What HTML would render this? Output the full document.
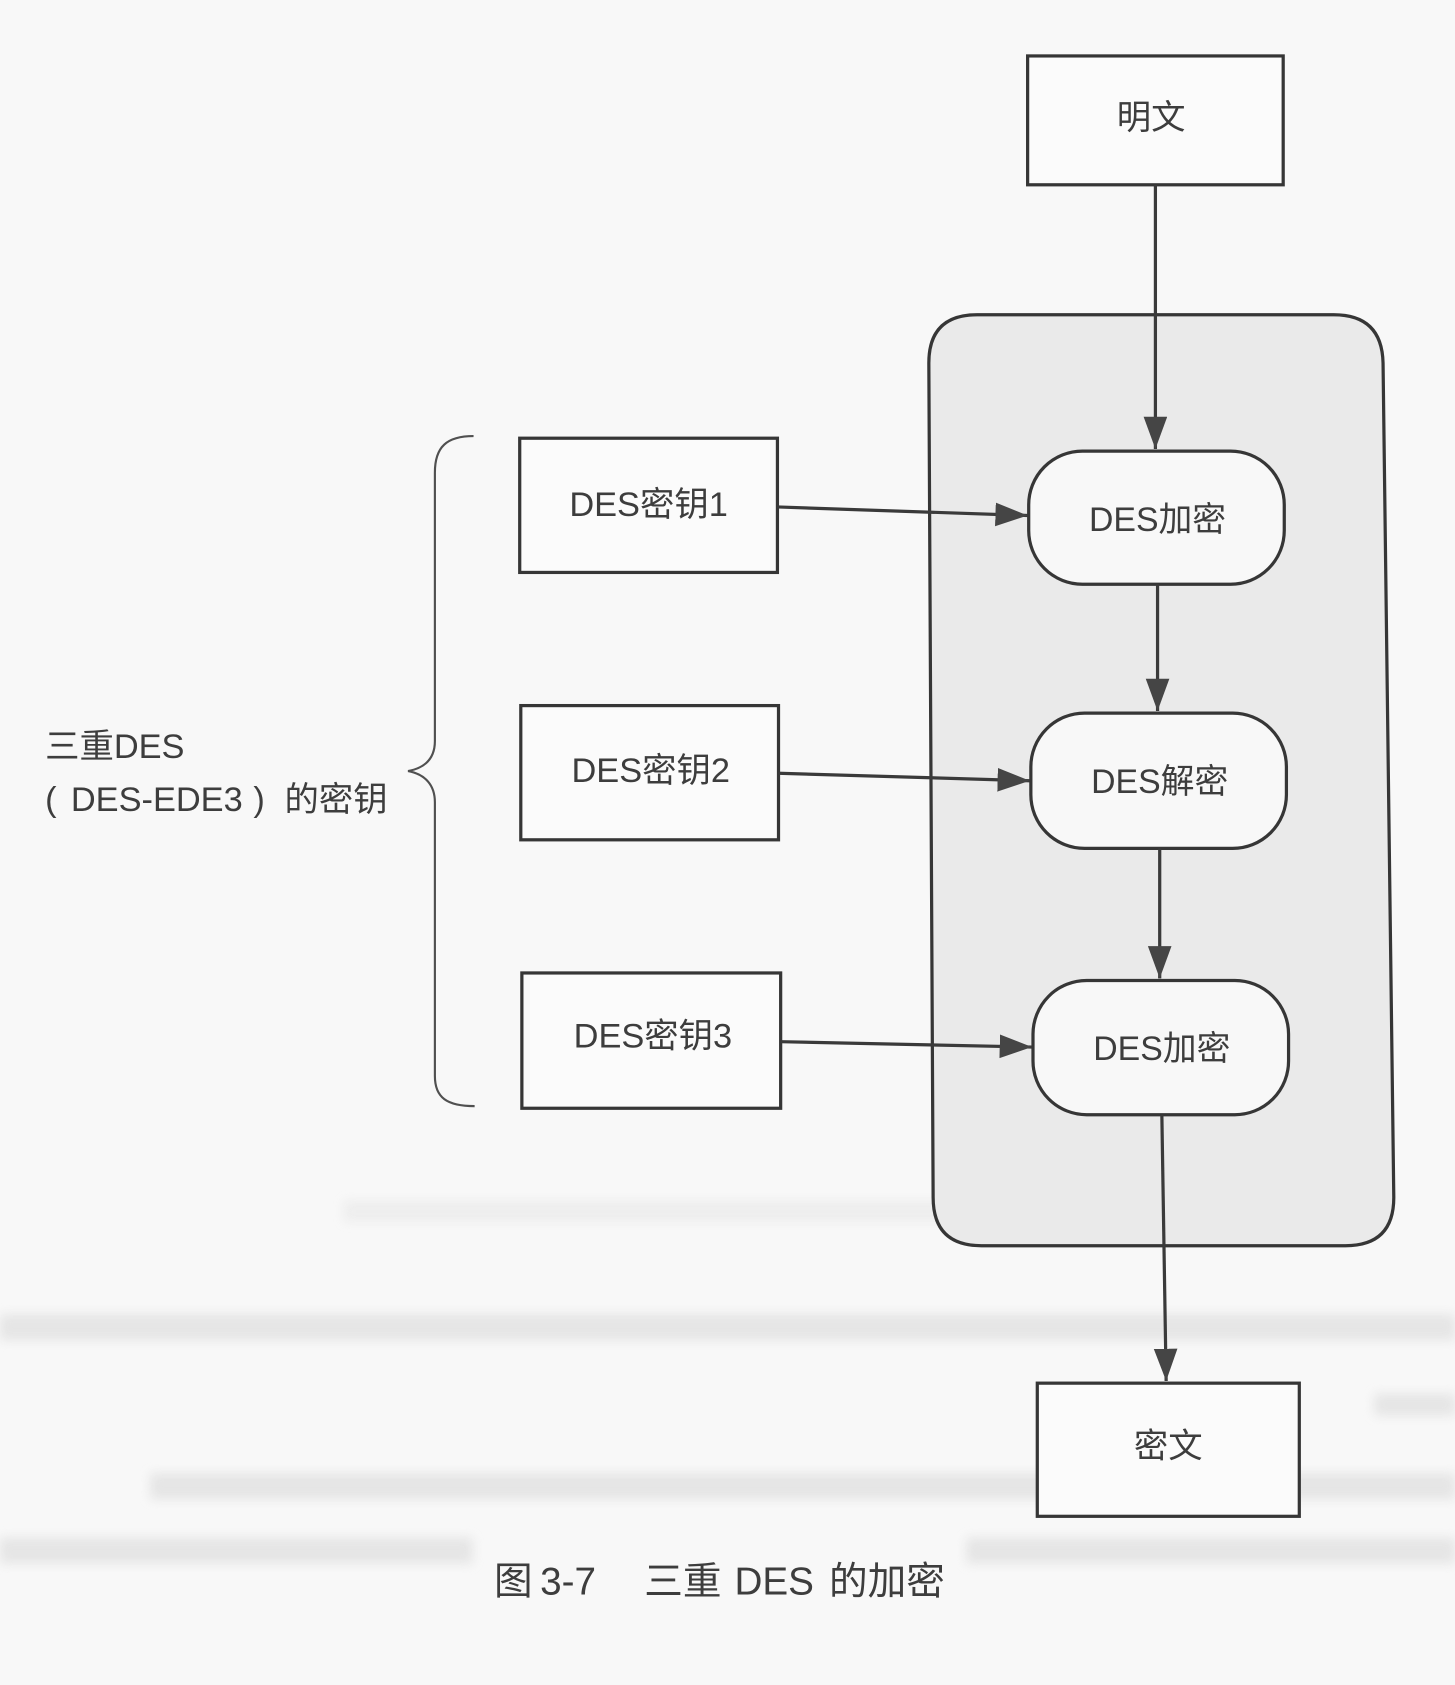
<!DOCTYPE html>
<html><head><meta charset="utf-8"><style>
html,body{margin:0;padding:0;background:#f8f8f8;}
svg{display:block;}
text{font-family:"Liberation Sans","Noto Sans CJK SC",sans-serif;fill:#3d3d3d;}
</style></head><body>
<svg width="1455" height="1685" viewBox="0 0 1355 1569" xmlns="http://www.w3.org/2000/svg">
<defs>
<filter id="bl" x="-5%" y="-100%" width="110%" height="300%"><feGaussianBlur stdDeviation="5"/></filter>
<marker id="ah" markerUnits="userSpaceOnUse" markerWidth="32" markerHeight="24" refX="30" refY="11" orient="auto">
<path d="M0,0 L30,11 L0,22 Z" fill="#454545"/>
</marker>
</defs>
<rect width="1355" height="1569" fill="#f8f8f8"/>
<!-- faint bleed-through bands -->
<g filter="url(#bl)" fill="#d6d6d6" opacity="0.55">
<rect x="0" y="1224" width="1355" height="24"/>
<rect x="1280" y="1298" width="75" height="20"/>
<rect x="140" y="1372" width="1215" height="24"/>
<rect x="0" y="1432" width="440" height="24"/>
<rect x="900" y="1432" width="455" height="24"/>
<rect x="320" y="1118" width="700" height="20" opacity="0.5"/>
</g>

<!-- container -->
<path d="M910,293 L1242,293 Q1287,293 1288,338 L1298,1115 Q1298,1160 1253,1160 L914,1160 Q869,1160 869,1115 L865,338 Q865,293 910,293 Z" fill="#eaeaea" stroke="#363636" stroke-width="3"/>

<!-- 明文 -->
<rect x="957" y="52" width="238" height="120" fill="#fbfbfb" stroke="#363636" stroke-width="3"/>
<text x="1072" y="110" font-size="32" text-anchor="middle" dominant-baseline="central">明文</text>

<!-- pills -->
<rect x="958" y="420" width="238" height="124" rx="50" ry="50" fill="#f8f8f8" stroke="#363636" stroke-width="3"/>
<text x="1078" y="484" font-size="31.5" text-anchor="middle" dominant-baseline="central">DES加密</text>
<rect x="960" y="664" width="238" height="126" rx="50" ry="50" fill="#f8f8f8" stroke="#363636" stroke-width="3"/>
<text x="1080" y="728" font-size="31.5" text-anchor="middle" dominant-baseline="central">DES解密</text>
<rect x="962" y="913" width="238" height="125" rx="50" ry="50" fill="#f8f8f8" stroke="#363636" stroke-width="3"/>
<text x="1082" y="977" font-size="31.5" text-anchor="middle" dominant-baseline="central">DES加密</text>

<!-- key boxes -->
<rect x="484" y="408" width="240" height="125" fill="#fbfbfb" stroke="#363636" stroke-width="3"/>
<text x="604" y="470" font-size="32" text-anchor="middle" dominant-baseline="central">DES密钥1</text>
<rect x="485" y="657" width="240" height="125" fill="#fbfbfb" stroke="#363636" stroke-width="3"/>
<text x="606" y="718" font-size="32" text-anchor="middle" dominant-baseline="central">DES密钥2</text>
<rect x="486" y="906" width="241" height="126" fill="#fbfbfb" stroke="#363636" stroke-width="3"/>
<text x="608" y="965" font-size="32" text-anchor="middle" dominant-baseline="central">DES密钥3</text>

<!-- 密文 -->
<rect x="966" y="1288" width="244" height="124" fill="#fbfbfb" stroke="#363636" stroke-width="3"/>
<text x="1088" y="1347" font-size="32" text-anchor="middle" dominant-baseline="central">密文</text>

<!-- connectors -->
<g stroke="#3a3a3a" stroke-width="3" fill="none">
<line x1="1076" y1="172" x2="1076" y2="418" marker-end="url(#ah)"/>
<line x1="1078" y1="544" x2="1078" y2="662" marker-end="url(#ah)"/>
<line x1="1080" y1="790" x2="1080" y2="911" marker-end="url(#ah)"/>
<line x1="1082" y1="1038" x2="1086" y2="1286" marker-end="url(#ah)"/>
<line x1="724" y1="472" x2="957" y2="480" marker-end="url(#ah)"/>
<line x1="725" y1="720" x2="959" y2="727" marker-end="url(#ah)"/>
<line x1="727" y1="970" x2="961" y2="975" marker-end="url(#ah)"/>
</g>

<!-- brace -->
<path d="M441,406 C416,406 405,416 405,440 L405,690 C405,706 396,715 380,718 C396,721 405,731 405,747 L405,1002 C405,1022 416,1030 442,1030" fill="none" stroke="#505050" stroke-width="2"/>

<!-- label -->
<text font-size="32" x="42" y="706">三重DES</text>
<text font-size="32" y="755"><tspan x="42">(</tspan><tspan x="66">DES-EDE3</tspan><tspan x="236">)</tspan><tspan x="265">的密钥</tspan></text>

<!-- caption -->
<text font-size="36" y="1485"><tspan x="460">图</tspan><tspan x="503">3-7</tspan><tspan x="600">三重</tspan><tspan x="684">DES</tspan><tspan x="772">的加密</tspan></text>
</svg>
</body></html>
